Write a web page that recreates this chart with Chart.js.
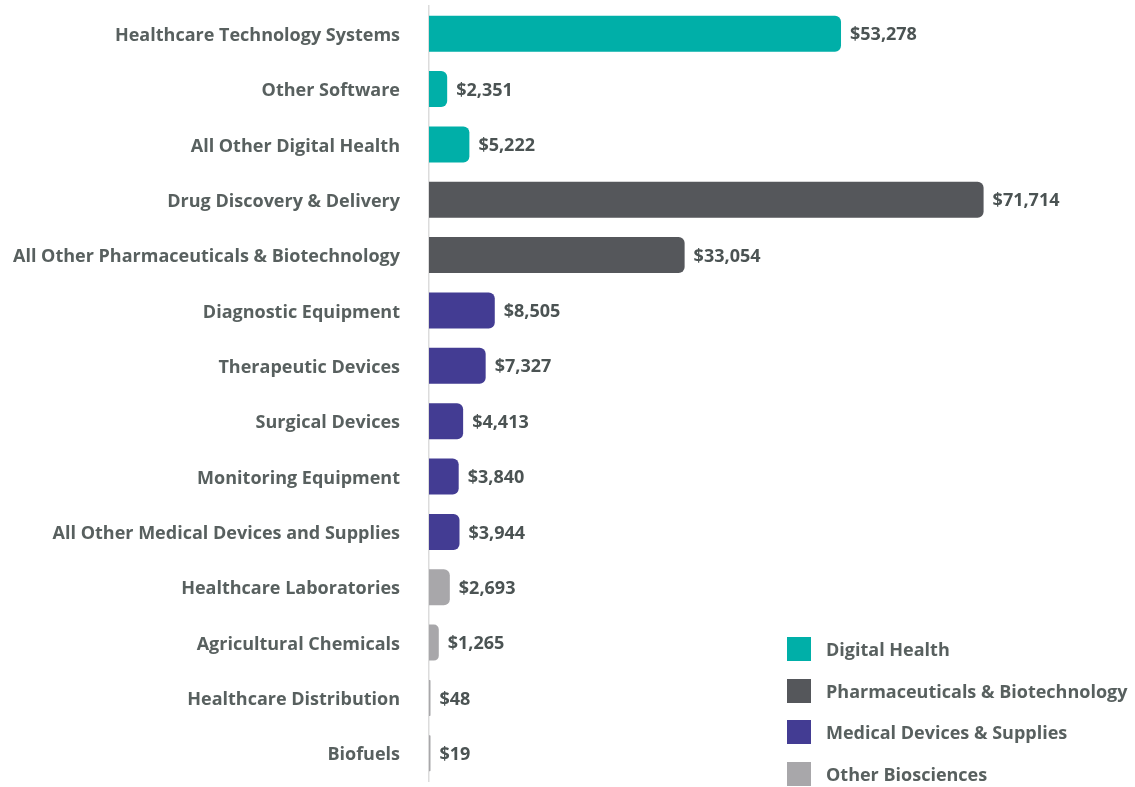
<!DOCTYPE html>
<html>
<head>
<meta charset="utf-8">
<script src="https://cdn.jsdelivr.net/npm/chart.js@4/dist/chart.umd.min.js"></script>
<style>
  body { margin: 0; background: #fff; }
  #wrap { position: relative; width: 1135px; height: 787px; }
  #legend { position: absolute; left: 787px; top: 637px; font-family: "Open Sans", sans-serif; font-weight: 700; font-size: 18px; color: #58605f; }
  #legend div { display: flex; align-items: center; height: 24px; margin-bottom: 17.5px; }
  #legend span.box { width: 24px; height: 24px; margin-right: 15px; }
</style>
</head>
<body>
<div id="wrap">
  <canvas id="bar-chart" width="1135" height="787"></canvas>
  <div id="legend"></div>
</div>
<script>
// categories and values (USD)
var categories = ["Healthcare Technology Systems", "Other Software", "All Other Digital Health",
  "Drug Discovery & Delivery", "All Other Pharmaceuticals & Biotechnology",
  "Diagnostic Equipment", "Therapeutic Devices", "Surgical Devices", "Monitoring Equipment",
  "All Other Medical Devices and Supplies", "Healthcare Laboratories", "Agricultural Chemicals",
  "Healthcare Distribution", "Biofuels"];
var values = [53278, 2351, 5222, 71714, 33054, 8505, 7327, 4413, 3840, 3944, 2693, 1265, 48, 19];
// group index of each category
var groupOf = [0, 0, 0, 1, 1, 2, 2, 2, 2, 2, 3, 3, 3, 3];
var groups = ["Digital Health", "Pharmaceuticals & Biotechnology", "Medical Devices & Supplies", "Other Biosciences"];
var groupColors = ["#00afa8", "#55575b", "#433c93", "#a8a7aa"];

var font = "'Open Sans', sans-serif";

var valueLabels = {
  id: "valueLabels",
  afterDatasetsDraw: function(chart) {
    var ctx = chart.ctx;
    var meta = chart.getDatasetMeta(0);
    ctx.save();
    ctx.font = "bold 18px " + font;
    ctx.fillStyle = "#4b5353";
    ctx.textBaseline = "middle";
    ctx.textAlign = "left";
    meta.data.forEach(function(bar, i) {
      ctx.fillText("$" + values[i].toLocaleString("en-US"), bar.x + 9, bar.y + 1.5);
    });
    ctx.restore();
  }
};

new Chart(document.getElementById("bar-chart"), {
  type: 'bar',
  data: {
    labels: categories,
    datasets: [{
      data: values,
      backgroundColor: groupOf.map(function(g) { return groupColors[g]; }),
      borderRadius: 6,
      borderSkipped: 'start',
      minBarLength: 1.5,
      categoryPercentage: 1,
      barPercentage: 0.65
    }]
  },
  options: {
    indexAxis: 'y',
    responsive: false,
    animation: false,
    layout: { padding: { top: 6, bottom: 6, right: 10 } },
    plugins: { legend: { display: false }, tooltip: { enabled: false } },
    scales: {
      x: { display: false, min: 0, max: 90000 },
      y: {
        afterFit: function(scale) {
          scale.width = 429;
          scale.paddingTop = 0;
          scale.paddingBottom = 0;
        },
        grid: { display: false, drawTicks: false },
        border: { display: true, color: "#dcdcdc", width: 1.5 },
        ticks: { padding: 29, labelOffset: 2, color: "#58605f", font: { family: font, size: 18, weight: 700 } }
      }
    }
  },
  plugins: [valueLabels]
});

var legend = document.getElementById("legend");
groups.forEach(function(g, i) {
  var row = document.createElement("div");
  row.innerHTML = '<span class="box" style="background:' + groupColors[i] + '"></span>' + g.replace("&", "&amp;");
  legend.appendChild(row);
});
</script>
</body>
</html>
